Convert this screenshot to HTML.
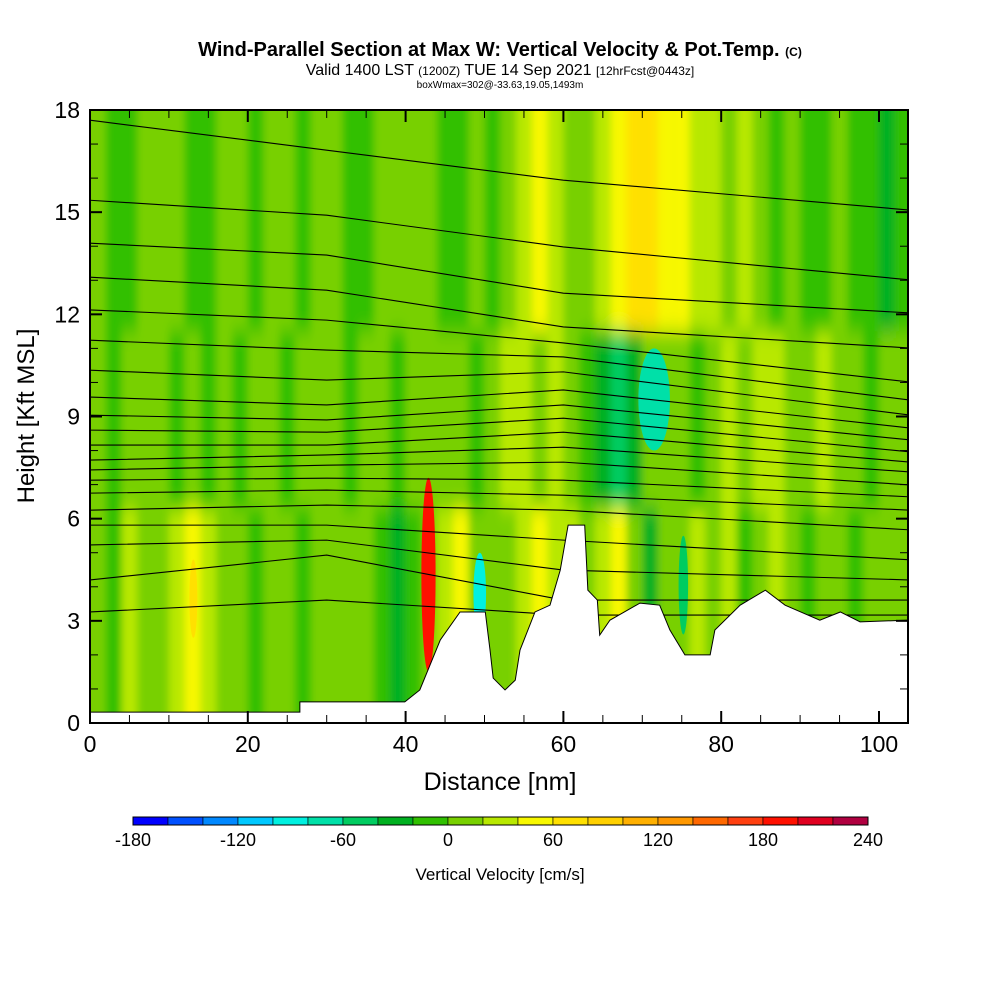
<!DOCTYPE html>
<html><head><meta charset="utf-8"><style>
body{margin:0;background:#fff;width:1000px;height:1000px;overflow:hidden;font-family:"Liberation Sans",sans-serif}
text{font-family:"Liberation Sans",sans-serif}
</style></head><body>
<svg id="chart" width="1000" height="1000">
<defs>
<clipPath id="plotclip"><rect x="90" y="110" width="818" height="613"/></clipPath>
<filter id="soft" x="-5%" y="-5%" width="110%" height="110%"><feGaussianBlur stdDeviation="4 10"/></filter>
</defs>
<text x="500" y="56" text-anchor="middle" font-size="20" font-weight="bold">Wind-Parallel Section at Max W: Vertical Velocity &amp; Pot.Temp. <tspan font-size="12">(C)</tspan></text>
<text x="500" y="75" text-anchor="middle" font-size="16">Valid 1400 LST <tspan font-size="12">(1200Z)</tspan> TUE 14 Sep 2021 <tspan font-size="12">[12hrFcst@0443z]</tspan></text>
<text x="500" y="88" text-anchor="middle" font-size="10">boxWmax=302@-33.63,19.05,1493m</text>
<g clip-path="url(#plotclip)"><g id="field" filter="url(#soft)"></g><g id="blobs"></g><g id="contours"></g><g id="terrain"></g></g>
<g id="axes"></g>
<g id="cbar"></g>
<text x="500" y="880" text-anchor="middle" font-size="17">Vertical Velocity [cm/s]</text>
<text x="500" y="790" text-anchor="middle" font-size="25">Distance [nm]</text>
<text transform="translate(34,416) rotate(-90)" text-anchor="middle" font-size="24">Height [Kft MSL]</text>
</svg>
<script>
const colors=["#0000ff","#0050ff","#0088ff","#00c8ff","#00f0e0","#00e0a8","#00cc60","#00b020","#30c000","#78d000","#b8e800","#f8f800","#ffe000","#ffd000","#ffb000","#ff9800","#ff6800","#ff4010","#ff1000","#e00020","#b00040"];
const cbarTicks=[-180,-120,-60,0,60,120,180,240];
const colX=[0,2,4,6,8,10,12,14,16,18,20,22,24,26,28,30,32,34,36,38,40,42,44,46,48,50,52,54,56,58,60,62,64,66,68,70,72,74,76,78,80,82,84,86,88,90,92,94,96,98,100,102];
const wHigh=[10,-10,-10,10,10,10,-10,-10,10,10,-10,10,10,-10,10,10,-10,-10,10,10,10,10,-10,-10,10,-10,10,30,50,30,10,10,30,50,70,70,50,50,30,30,10,30,10,-10,10,-10,-10,10,-10,-10,-30,-10];
const wMid=[10,-10,10,10,10,-10,10,-10,10,-10,10,10,-10,10,10,10,-10,10,10,-10,10,10,10,10,-10,10,30,30,10,30,10,-10,-30,-50,-30,10,10,10,-10,10,30,10,30,30,10,10,30,10,10,-10,10,10];
const wLow=[10,-10,30,10,10,30,50,30,10,10,-10,10,10,-10,10,10,10,10,-10,-30,-10,10,30,50,10,10,10,30,50,30,30,10,30,50,10,-30,10,10,30,10,30,-10,10,30,10,-10,10,10,-10,10,10,10];
const blobX0=[42.0,48.6,69.5,74.6,12.6];
const blobX1=[43.8,50.2,73.5,75.8,13.6];
const blobH0=[1.5,2.6,8.0,2.6,2.5];
const blobH1=[7.2,5.0,11.0,5.5,4.8];
const blobW=[190,-90,-70,-60,60];
const terrX=[0,26.6,26.6,39.9,41.8,44.4,46.9,50.1,50.7,51.1,52.6,53.9,54.5,56.4,58.3,59.6,60.6,62.7,63.1,64.3,64.6,65.9,69.7,72.2,73.5,75.4,78.6,79.2,82.4,85.6,88.1,92.5,95.1,97.6,103.7];
const terrH=[0.32,0.32,0.62,0.62,0.97,2.44,3.26,3.26,2.14,1.32,0.97,1.26,2.14,3.26,3.46,4.49,5.81,5.81,3.9,3.61,2.58,3.02,3.52,3.46,2.73,2.0,2.0,2.73,3.46,3.9,3.46,3.02,3.26,2.97,3.02];
const knotX=[0,30,60,104];
const th0=[17.70,15.35,14.09,13.09,12.13,11.24,10.36,9.57,9.04,8.60,8.16,7.72,7.43,7.13,6.75,6.25,5.81,5.23,4.20,3.26];
const th1=[16.82,14.91,13.74,12.71,11.83,10.95,10.07,9.34,8.90,8.54,8.16,7.87,7.57,7.19,6.84,6.40,5.81,5.37,4.93,3.61];
const th2=[15.94,13.98,12.62,11.63,11.16,10.75,10.31,9.78,9.34,8.95,8.54,8.10,7.66,7.13,6.69,6.25,5.37,4.49,3.61,3.17];
const th3=[15.06,13.01,12.04,11.01,10.01,9.48,9.04,8.66,8.31,7.96,7.66,7.37,6.99,6.64,6.25,5.67,4.79,4.20,3.61,3.17];
const NS="http://www.w3.org/2000/svg";
const X0=90,X1=908,Y0=723,Y1=110;
const xs=v=>X0+v*7.89, ys=h=>Y0-h*(Y0-Y1)/18;
const colorOf=w=>colors[Math.max(0,Math.min(20,Math.floor((w+180)/20)))];
function mk(tag,attrs,parent){const e=document.createElementNS(NS,tag);for(const k in attrs)e.setAttribute(k,attrs[k]);parent.appendChild(e);return e;}
const field=document.getElementById('field');
mk('rect',{x:X0-20,y:Y1-20,width:X1-X0+40,height:Y0-Y1+40,fill:'#78d000'},field);
const bands=[[wLow,-1,6.3],[wMid,6.3,11.5],[wHigh,11.5,19]];
bands.forEach(([arr,h0,h1])=>{
  colX.forEach((x,i)=>{
    const r=mk('rect',{x:xs(x),y:ys(h1),width:xs(x+2)-xs(x)+(i==colX.length-1?20:0),height:ys(h0)-ys(h1),fill:colorOf(arr[i])},field);
    
    
  });
});
const bg=document.getElementById('blobs');
blobW.forEach((w,i)=>{
  const cx=(xs(blobX0[i])+xs(blobX1[i]))/2, cy=(ys(blobH0[i])+ys(blobH1[i]))/2;
  const e=mk('ellipse',{cx:cx,cy:cy,rx:(xs(blobX1[i])-xs(blobX0[i]))/2,ry:(ys(blobH0[i])-ys(blobH1[i]))/2,fill:colorOf(w)},bg);
  
  
});
const cg=document.getElementById('contours');
th0.forEach((h,i)=>{
  const hs=[h,th1[i],th2[i],th3[i]];
  const p=mk('path',{d:'M'+knotX.map((x,k)=>`${xs(x)},${ys(hs[k])}`).join(' L'),fill:'none',stroke:'#000','stroke-width':1.1},cg);
  
  
});
const terr=document.getElementById('terrain');
let d=`M${X0-5},${Y0+5} L${X0-5},${ys(terrH[0])} `+terrX.map((x,i)=>`L${xs(x)},${ys(terrH[i])}`).join(' ')+` L${X1+5},${ys(terrH[terrH.length-1])} L${X1+5},${Y0+5} Z`;
const tp=mk('path',{d:d,fill:'#fff',stroke:'#000','stroke-width':1},terr);


const ax=document.getElementById('axes');
mk('rect',{x:X0,y:Y1,width:X1-X0,height:Y0-Y1,fill:'none',stroke:'#000','stroke-width':2},ax);
for(let v=0;v<=100;v+=5){const L=v%20==0?12:8;mk('line',{x1:xs(v),x2:xs(v),y1:Y0,y2:Y0-L,stroke:'#000','stroke-width':v%20==0?2:1},ax);mk('line',{x1:xs(v),x2:xs(v),y1:Y1,y2:Y1+L,stroke:'#000','stroke-width':v%20==0?2:1},ax);
 if(v%20==0){const t=mk('text',{x:xs(v),y:752,'text-anchor':'middle','font-size':23},ax);t.textContent=v;}}
for(let h=0;h<=18;h++){const L=h%3==0?12:8;mk('line',{x1:X0,x2:X0+L,y1:ys(h),y2:ys(h),stroke:'#000','stroke-width':h%3==0?2:1},ax);mk('line',{x1:X1,x2:X1-L,y1:ys(h),y2:ys(h),stroke:'#000','stroke-width':h%3==0?2:1},ax);
 if(h%3==0){const t=mk('text',{x:80,y:ys(h)+8,'text-anchor':'end','font-size':23},ax);t.textContent=h;}}
const cb=document.getElementById('cbar');
colors.forEach((c,i)=>{const r=mk('rect',{x:133+i*35,y:817,width:35,height:8,fill:c,stroke:'#000','stroke-width':0.6},cb);});
mk('rect',{x:133,y:817,width:735,height:8,fill:'none',stroke:'#000'},cb);
cbarTicks.forEach(v=>{const t=mk('text',{x:133+(v+180)/20*35,y:846,'text-anchor':'middle','font-size':18},cb);t.textContent=v;});
</script>
</body></html>
